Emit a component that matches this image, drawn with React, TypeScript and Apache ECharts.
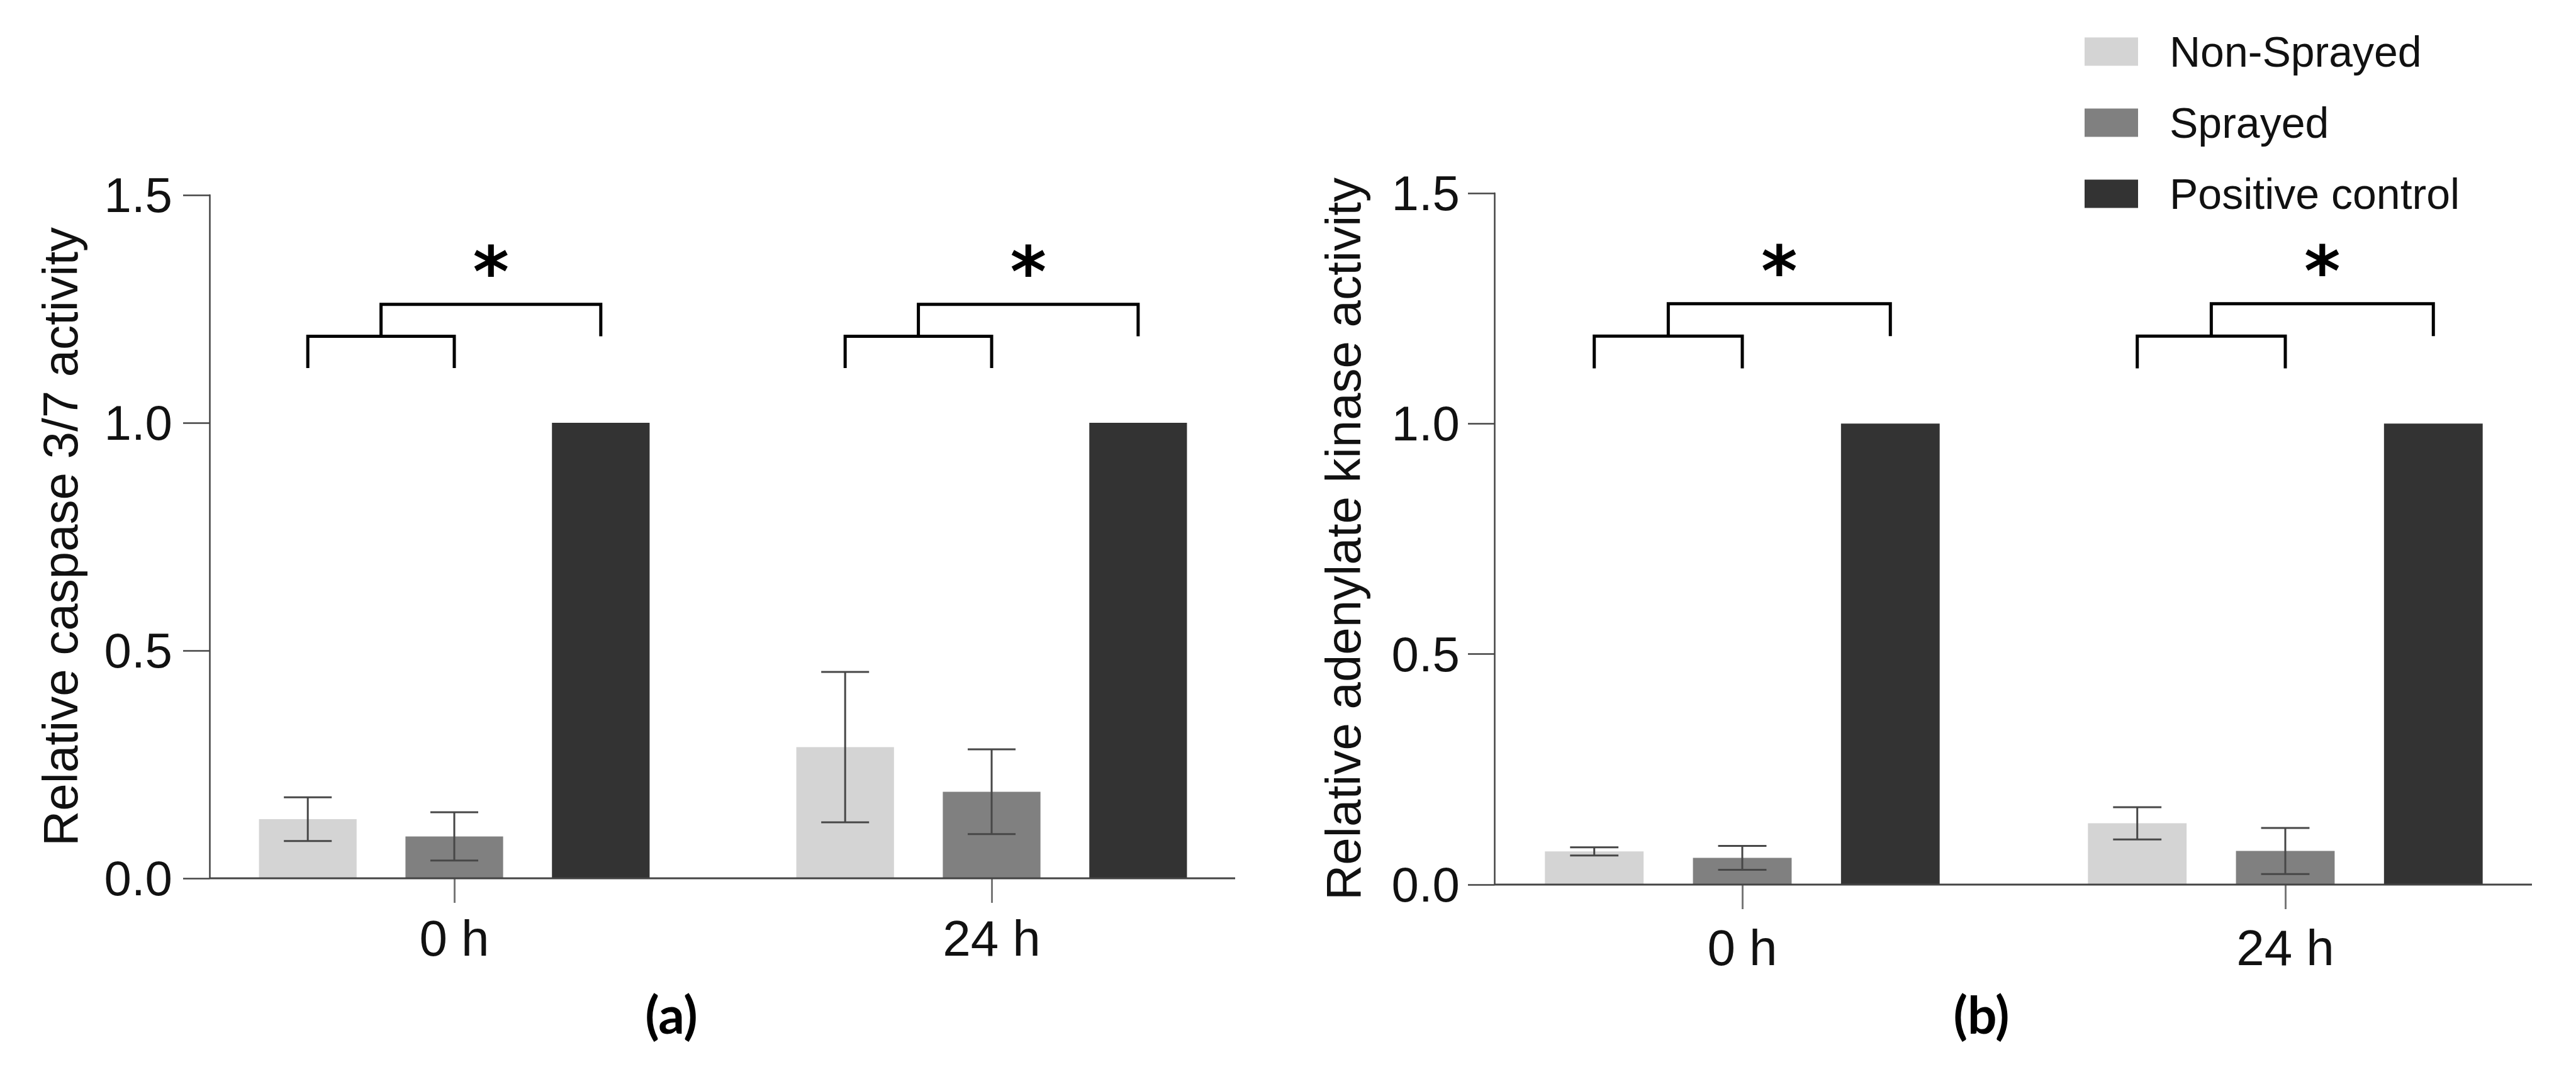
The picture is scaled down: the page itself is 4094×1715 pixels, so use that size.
import React, { useEffect, useRef } from "react";
import * as echarts from "echarts";

// ---------- data ----------
const groups = ["0 h", "24 h"];
const treatments = ["Non-Sprayed", "Sprayed", "Positive control"];
const barColors = ["#d4d4d4", "#808080", "#333333"];

// (a) Relative caspase 3/7 activity
const caspaseNonSprayed = [0.13, 0.288];
const caspaseSprayed = [0.092, 0.19];
const caspasePositive = [1.0, 1.0];
const caspaseNonSprayedErr = [0.048, 0.165];
const caspaseSprayedErr = [0.053, 0.093];
const caspasePositiveErr = [0, 0];

// (b) Relative adenylate kinase activity
const akNonSprayed = [0.072, 0.133];
const akSprayed = [0.058, 0.073];
const akPositive = [1.0, 1.0];
const akNonSprayedErr = [0.009, 0.035];
const akSprayedErr = [0.026, 0.05];
const akPositiveErr = [0, 0];

// y axis
const yMin = 0;
const yMax = 1.5;
const yStep = 0.5;

// significance bracket levels (data units)
const bracketLegY = 1.12;
const bracketInnerY = 1.19;
const bracketOuterY = 1.26;
const bracketOuterLegY = 1.19;
const starY = 1.33;
const starText = "*";

const panelLabels = ["(a)", "(b)"];
const axisTitles = ["Relative caspase 3/7 activity", "Relative adenylate kinase activity"];

// ---------- layout ----------
const CAT_GAP = 0.273;
const BAR_GAP = 0.5;
const FONT = '"Liberation Sans", Arial, sans-serif';

const panels = [
  { left: 295, width: 1708, top: 310, height: 1086, axisX: 333, lineEnd: 1963, nameGap: 198, labelMargin: 59, xLabelMargin: 55, labelX: 1067 },
  { left: 2337.5, width: 1726, top: 307, height: 1099, axisX: 2375, lineEnd: 4024, nameGap: 201, labelMargin: 55, xLabelMargin: 60, labelX: 3149 },
];

function barGeom(api: any) {
  const band = api.size([1, 0])[0];
  const barW = (band * (1 - CAT_GAP)) / (3 + 2 * BAR_GAP);
  return { barW, step: barW * (1 + BAR_GAP) };
}

function errorSeries(gi: number, means: number[][], errs: number[][]) {
  const data: number[][] = [];
  means.forEach((arr, t) =>
    arr.forEach((m, g) => {
      if (errs[t][g] > 0) data.push([g, t, m - errs[t][g], m + errs[t][g]]);
    })
  );
  return {
    type: "custom",
    xAxisIndex: gi,
    yAxisIndex: gi,
    z: 5,
    silent: true,
    data,
    encode: { x: 0, y: [2, 3] },
    renderItem: (params: any, api: any) => {
      const g = api.value(0);
      const t = api.value(1);
      const { barW, step } = barGeom(api);
      const cx = api.coord([g, 0])[0] + (t - 1) * step;
      const yLo = api.coord([g, api.value(2)])[1];
      const yHi = api.coord([g, api.value(3)])[1];
      const cap = barW * 0.245;
      const style = { stroke: "#474747", lineWidth: 3, fill: "none" };
      return {
        type: "group",
        children: [
          { type: "line", shape: { x1: cx, y1: yLo, x2: cx, y2: yHi }, style },
          { type: "line", shape: { x1: cx - cap, y1: yHi, x2: cx + cap, y2: yHi }, style },
          { type: "line", shape: { x1: cx - cap, y1: yLo, x2: cx + cap, y2: yLo }, style },
        ],
      };
    },
  };
}

function bracketSeries(gi: number) {
  return {
    type: "custom",
    xAxisIndex: gi,
    yAxisIndex: gi,
    z: 6,
    silent: true,
    data: groups.map((_, g) => [g, bracketOuterY]),
    encode: { x: 0, y: 1 },
    renderItem: (params: any, api: any) => {
      const g = api.value(0);
      const { step } = barGeom(api);
      const c = api.coord([g, 0])[0];
      const x1 = c - step;
      const x2 = c;
      const x3 = c + step;
      const mid = (x1 + x2) / 2;
      const y = (v: number) => api.coord([g, v])[1];
      const style = { stroke: "#000", lineWidth: 5, fill: "none", lineJoin: "miter" };
      return {
        type: "group",
        children: [
          {
            type: "polyline",
            shape: { points: [[x1, y(bracketLegY)], [x1, y(bracketInnerY)], [x2, y(bracketInnerY)], [x2, y(bracketLegY)]] },
            style,
          },
          {
            type: "polyline",
            shape: { points: [[mid, y(bracketInnerY)], [mid, y(bracketOuterY)], [x3, y(bracketOuterY)], [x3, y(bracketOuterLegY)]] },
            style,
          },
          {
            type: "text",
            style: {
              text: starText,
              x: (mid + x3) / 2,
              y: y(starY),
              align: "center",
              verticalAlign: "middle",
              textAlign: "center",
              textVerticalAlign: "middle",
              fontSize: 110,
              fontWeight: "bold",
              fontFamily: '"DejaVu Sans", sans-serif',
              fill: "#000",
            },
          },
        ],
      };
    },
  };
}

function barSeries(gi: number, vals: number[][]) {
  return treatments.map((name, t) => ({
    type: "bar",
    name,
    xAxisIndex: gi,
    yAxisIndex: gi,
    data: vals[t],
    itemStyle: { color: barColors[t] },
    barGap: `${BAR_GAP * 100}%`,
    barCategoryGap: `${CAT_GAP * 100}%`,
    z: 2,
  }));
}

export default function App() {
  const ref = useRef<HTMLDivElement>(null);
  useEffect(() => {
    document.body.style.margin = "0";
    if (!ref.current) return;
    const chart = echarts.init(ref.current, null, { renderer: "svg" });
    const meansA = [caspaseNonSprayed, caspaseSprayed, caspasePositive];
    const errsA = [caspaseNonSprayedErr, caspaseSprayedErr, caspasePositiveErr];
    const meansB = [akNonSprayed, akSprayed, akPositive];
    const errsB = [akNonSprayedErr, akSprayedErr, akPositiveErr];

    const option: any = {
      animation: false,
      backgroundColor: "#ffffff",
      grid: panels.map((p) => ({ left: p.left, top: p.top, width: p.width, height: p.height, containLabel: false })),
      xAxis: panels.map((p, i) => ({
        type: "category",
        gridIndex: i,
        data: groups,
        axisLine: { show: false },
        axisTick: { show: true, alignWithLabel: true, length: 39, lineStyle: { color: "#777", width: 3 } },
        axisLabel: { fontSize: 80, fontFamily: FONT, color: "#111", margin: p.xLabelMargin },
        splitLine: { show: false },
      })),
      yAxis: panels.map((p, i) => ({
        type: "value",
        gridIndex: i,
        min: yMin,
        max: yMax,
        interval: yStep,
        offset: -(p.axisX - p.left),
        name: axisTitles[i],
        nameLocation: "middle",
        nameGap: p.nameGap,
        nameTextStyle: { fontSize: 78, fontFamily: FONT, color: "#111" },
        axisLine: { show: true, lineStyle: { color: "#444", width: 2.5 } },
        axisTick: { show: true, length: 42, lineStyle: { color: "#444", width: 2.5 } },
        axisLabel: {
          fontSize: 78,
          fontFamily: FONT,
          color: "#111",
          margin: p.labelMargin,
          formatter: (v: number) => v.toFixed(1),
        },
        splitLine: { show: false },
      })),
      legend: {
        show: true,
        orient: "vertical",
        left: 3308,
        top: 43,
        icon: "rect",
        itemWidth: 85,
        itemHeight: 45,
        itemGap: 45,
        data: treatments,
        selectedMode: false,
        textStyle: { fontSize: 68, fontFamily: FONT, color: "#111", lineHeight: 45, padding: [0, 0, 0, 45] },
      },
      graphic: [
        ...panels.map((p) => ({
          type: "line",
          z: 10,
          shape: { x1: p.axisX, y1: p.top + p.height, x2: p.lineEnd, y2: p.top + p.height },
          style: { stroke: "#444", lineWidth: 3 },
        })),
        ...panels.map((p, i) => ({
          type: "text",
          z: 10,
          style: {
            text: panelLabels[i],
            x: p.labelX,
            y: 1611,
            align: "center",
            verticalAlign: "middle",
            textAlign: "center",
            textVerticalAlign: "middle",
            fontSize: 82,
            fontWeight: "bold",
            fontFamily: "Lato, sans-serif",
            fill: "#000",
          },
        })),
      ],
      series: [
        ...barSeries(0, meansA),
        ...barSeries(1, meansB),
        errorSeries(0, meansA, errsA),
        errorSeries(1, meansB, errsB),
        bracketSeries(0),
        bracketSeries(1),
      ],
    };
    chart.setOption(option);
    return () => chart.dispose();
  }, []);
  return <div ref={ref} style={{ width: 4094, height: 1715 }} />;
}
